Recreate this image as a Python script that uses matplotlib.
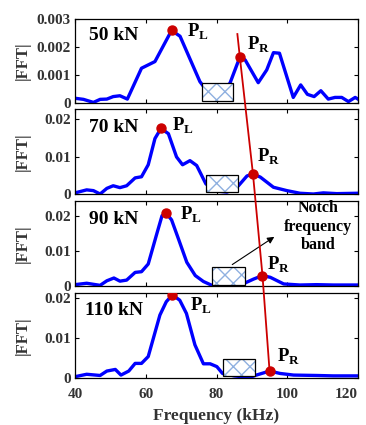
import matplotlib
matplotlib.use('Agg')
import matplotlib.pyplot as plt
from matplotlib.patches import Rectangle
from matplotlib.lines import Line2D

plt.rcParams['font.family'] = ['Liberation Serif', 'DejaVu Serif']
plt.rcParams['font.weight'] = 'bold'
plt.rcParams['mathtext.fontset'] = 'custom'
plt.rcParams['mathtext.rm'] = 'Liberation Serif'
plt.rcParams['mathtext.bf'] = 'Liberation Serif:bold'
plt.rcParams['hatch.linewidth'] = 1.0

# spectra (frequency in kHz, |FFT|)
loads = ['50 kN', '70 kN', '90 kN', '110 kN']

f50 = [40, 42.4, 45.2, 47.1, 49, 50.8, 52.7, 54.8, 58.8, 62.6, 67.3, 69.7, 75.3, 78, 80.5,
       83.8, 86.6, 88.1, 91.8, 94.2, 96.1, 97.8, 101.7, 103.8, 105.7, 107.6, 109.5, 111.6,
       113.5, 115.4, 117.3, 119.2, 120]
a50 = [0.00016, 0.00012, 0.00001, 0.00012, 0.00013, 0.00022, 0.00025, 0.00013, 0.00124,
       0.00148, 0.0026, 0.00239, 0.00076, 0.0003, 0.0003, 0.0007, 0.00164, 0.00154, 0.00072,
       0.00118, 0.0018, 0.00178, 0.00019, 0.00064, 0.0003, 0.00022, 0.00043, 0.00013,
       0.00019, 0.00019, 0.00004, 0.00019, 0.00013]

f70 = [40, 43.3, 45.2, 47.1, 49, 50.8, 52.7, 54.6, 57, 58.8, 60.7, 62.6, 64.3, 66.4, 68.7,
       70.4, 72.5, 74.4, 77, 80, 83, 86.2, 88.6, 90.3, 92.4, 96.1, 99.9, 103.6, 107.4, 110.2,
       114, 120]
a70 = [0.0003, 0.0011, 0.0009, 0.0, 0.0015, 0.0022, 0.0017, 0.0022, 0.0043, 0.0046, 0.0078,
       0.0148, 0.0175, 0.0161, 0.0099, 0.0078, 0.0089, 0.0076, 0.0027, 0.0008, 0.0005, 0.0022,
       0.0048, 0.0054, 0.0045, 0.0018, 0.0009, 0.0002, 0.0, 0.0003, 0.0001, 0.0002]

f90 = [40, 43.3, 47.1, 49, 51, 52.7, 54.6, 57, 58.8, 60.7, 63, 64.6, 65.8, 67.3, 69.2, 71.6,
       74, 76.3, 78.7, 83, 88.1, 90.5, 93, 95.2, 99, 103.6, 108.3, 113, 120]
a90 = [0.0003, 0.0007, 0.0001, 0.0014, 0.0022, 0.0013, 0.0016, 0.0038, 0.004, 0.0062, 0.0144,
       0.02, 0.0207, 0.0188, 0.0135, 0.0067, 0.0029, 0.0012, 0.0001, 0.0002, 0.0008, 0.0019,
       0.0029, 0.0024, 0.0005, 0.0002, 0.0003, 0.0002, 0.0002]

f110 = [40, 43.3, 47.1, 49, 51.4, 53, 55.2, 57, 58.8, 60.7, 64, 65.8, 67.5, 69.6, 71.5, 73.9,
        76.3, 78.2, 80.1, 81.7, 85, 89.4, 90.9, 95, 98, 101.8, 108.3, 113, 120]
a110 = [0.0004, 0.001, 0.0007, 0.0018, 0.0022, 0.0008, 0.0018, 0.0037, 0.0037, 0.0054, 0.0157,
        0.019, 0.0207, 0.0194, 0.0161, 0.0083, 0.0036, 0.0036, 0.0029, 0.0012, 0.0006, 0.0002,
        0.0007, 0.0018, 0.0012, 0.0008, 0.0007, 0.0006, 0.0006]

freqs = [f50, f70, f90, f110]
amps = [a50, a70, a90, a110]

# peaks
pl_f = [67.3, 64.3, 65.8, 67.5]
pl_a = [0.0026, 0.0175, 0.0207, 0.0207]
pr_f = [86.6, 90.3, 93.0, 95.0]
pr_a = [0.00164, 0.0054, 0.0029, 0.0018]
pr_top = (85.9, 0.00247)

# notch frequency band boxes
notch_lo = [75.9, 77.0, 78.7, 81.7]
notch_hi = [84.8, 86.2, 88.1, 90.9]
notch_bot = [0.00006, 0.0006, 0.0002, 0.0006]
notch_top = [0.0007, 0.0052, 0.0053, 0.0048]

ylims = [0.003, 0.0226, 0.0242, 0.0211]
yticks = [[0, 0.001, 0.002, 0.003], [0, 0.01, 0.02], [0, 0.01, 0.02], [0, 0.01, 0.02]]
ytlabels = [['0', '0.001', '0.002', '0.003'], ['0', '0.01', '0.02'],
            ['0', '0.01', '0.02'], ['0', '0.01', '0.02']]
xticks = [40, 60, 80, 100, 120]

# label placement (offset points) for P_L and P_R
pl_off = [(11, -1), (8, 2), (10, -1), (13, -8)]
pr_off = [(5, 9), (3, 12), (3, 8), (5, 10)]
load_pos = [(0.05, 0.81), (0.05, 0.78), (0.05, 0.78), (0.035, 0.80)]

W, H = 366, 425
fig = plt.figure(figsize=(W / 100, H / 100), dpi=100)
tops = [19.3, 109.3, 201, 293.3]
bots = [102.7, 194, 285.7, 378.3]
gray = '#333333'

axes = []
for i in range(4):
    ax = fig.add_axes([75 / W, 1 - bots[i] / H, 283 / W, (bots[i] - tops[i]) / H])
    ax.plot(freqs[i], amps[i], color='#0000ff', lw=2.4, solid_joinstyle='round', zorder=2)
    box = ((notch_lo[i], notch_bot[i]), notch_hi[i] - notch_lo[i], notch_top[i] - notch_bot[i])
    ax.add_patch(Rectangle(*box, facecolor='white', edgecolor='#8fb0e0', lw=0,
                           hatch='xx', zorder=3))
    ax.add_patch(Rectangle(*box, facecolor='none', edgecolor='black', lw=0.9, zorder=3.5))
    ax.plot(pl_f[i], pl_a[i], 'o', color='#cc0000', ms=6.5, zorder=5)
    ax.annotate(r'$\mathbf{P}_\mathbf{L}$', (pl_f[i], pl_a[i]), xytext=pl_off[i],
                textcoords='offset points', fontsize=13.5, va='center', ha='left')
    ax.annotate(r'$\mathbf{P}_\mathbf{R}$', (pr_f[i], pr_a[i]), xytext=pr_off[i],
                textcoords='offset points', fontsize=13.5, va='center', ha='left')
    ax.text(load_pos[i][0], load_pos[i][1], loads[i], transform=ax.transAxes,
            fontsize=14, fontweight='bold', va='center', ha='left')
    ax.set_xlim(40, 120)
    ax.set_ylim(0, ylims[i])
    ax.set_xticks(xticks)
    ax.set_yticks(yticks[i])
    ax.set_yticklabels(ytlabels[i], fontweight='bold')
    ax.tick_params(direction='in', top=True, right=True, length=3, width=0.8,
                   labelsize=11, labelcolor=gray, pad=3)
    ax.tick_params(axis='x', pad=7)
    if i < 3:
        ax.set_xticklabels([])
    else:
        ax.set_xticklabels([str(t) for t in xticks], fontweight='bold')
        ax.get_xticklabels()[-1].set_horizontalalignment('right')
    for s in ax.spines.values():
        s.set_linewidth(0.9)
    ax.set_ylabel('|FFT|', fontsize=12, color=gray, fontweight='bold')
    ax.yaxis.set_label_coords(-0.155, 0.5)
    axes.append(ax)

axes[3].set_xlabel('Frequency (kHz)', fontsize=12.5, color=gray, fontweight='bold', labelpad=5)

# notch frequency band annotation (90 kN panel)
axes[2].annotate('', xy=(97.0, 0.0144), xytext=(83.8, 0.0056),
                 arrowprops=dict(arrowstyle='-|>', color='black', lw=0.8,
                                 mutation_scale=10), zorder=6)
axes[2].text(108.7, 0.0168, 'Notch\nfrequency\nband', fontsize=11.5, fontweight='bold',
             ha='center', va='center', linespacing=1.2)

# red line through the P_R peaks, across panels
inv = fig.transFigure.inverted()
pts = [inv.transform(axes[0].transData.transform(pr_top))]
for i in range(4):
    pts.append(inv.transform(axes[i].transData.transform((pr_f[i], pr_a[i]))))
xs = [p[0] for p in pts]
ys = [p[1] for p in pts]
fig.add_artist(Line2D(xs, ys, color='#cc0000', lw=1.3, transform=fig.transFigure, zorder=4))
fig.add_artist(Line2D(xs[1:], ys[1:], ls='none', marker='o', color='#cc0000', ms=6.5,
                      transform=fig.transFigure, zorder=5))

fig.savefig('out.png', dpi=100)
